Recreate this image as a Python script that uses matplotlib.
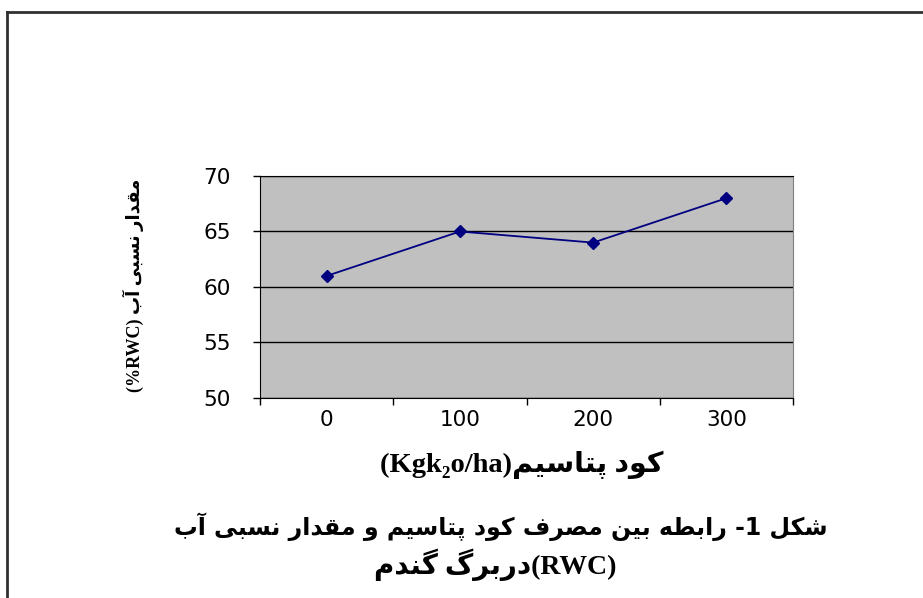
import matplotlib
matplotlib.use("Agg")
import matplotlib.pyplot as plt
from matplotlib.lines import Line2D

# data
doses = ["0", "100", "200", "300"]
rwc = [61, 65, 64, 68]
y_ticks = [50, 55, 60, 65, 70]

# persian labels (logical order)
ylabel_fa = "مقدار نسبی آب"
xlabel_fa = "کود پتاسیم"
caption1_fa = "شکل 1- رابطه بین مصرف کود پتاسیم و مقدار نسبی آب"
caption2_fa = "دربرگ گندم"

# presentation forms: isolated, final, initial, medial
FORMS = {
    "ا": (0xFE8D, 0xFE8E, None, None),
    "آ": (0xFE81, 0xFE82, None, None),
    "د": (0xFEA9, 0xFEAA, None, None),
    "ر": (0xFEAD, 0xFEAE, None, None),
    "و": (0xFEED, 0xFEEE, None, None),
    "ب": (0xFE8F, 0xFE90, 0xFE91, 0xFE92),
    "پ": (0xFB56, 0xFB57, 0xFB58, 0xFB59),
    "ت": (0xFE95, 0xFE96, 0xFE97, 0xFE98),
    "س": (0xFEB1, 0xFEB2, 0xFEB3, 0xFEB4),
    "ش": (0xFEB5, 0xFEB6, 0xFEB7, 0xFEB8),
    "ص": (0xFEB9, 0xFEBA, 0xFEBB, 0xFEBC),
    "ط": (0xFEC1, 0xFEC2, 0xFEC3, 0xFEC4),
    "ف": (0xFED1, 0xFED2, 0xFED3, 0xFED4),
    "ق": (0xFED5, 0xFED6, 0xFED7, 0xFED8),
    "ک": (0xFB8E, 0xFB8F, 0xFB90, 0xFB91),
    "گ": (0xFB92, 0xFB93, 0xFB94, 0xFB95),
    "ل": (0xFEDD, 0xFEDE, 0xFEDF, 0xFEE0),
    "م": (0xFEE1, 0xFEE2, 0xFEE3, 0xFEE4),
    "ن": (0xFEE5, 0xFEE6, 0xFEE7, 0xFEE8),
    "ه": (0xFEE9, 0xFEEA, 0xFEEB, 0xFEEC),
    "ی": (0xFBFC, 0xFBFD, 0xFBFE, 0xFBFF),
}


def rtl(text):
    # shape letters then reverse into visual order
    out = []
    for i, ch in enumerate(text):
        if ch not in FORMS:
            out.append(ch)
            continue
        prev = text[i - 1] if i > 0 else ""
        nxt = text[i + 1] if i + 1 < len(text) else ""
        join_prev = prev in FORMS and FORMS[prev][2] is not None
        join_next = FORMS[ch][2] is not None and nxt in FORMS
        iso, fin, ini, med = FORMS[ch]
        if join_prev and join_next:
            code = med
        elif join_prev:
            code = fin
        elif join_next:
            code = ini
        else:
            code = iso
        out.append(chr(code))
    return "".join(out[::-1])


W, H = 923, 598
fig = plt.figure(figsize=(W / 100, H / 100), dpi=100)
ax = fig.add_axes([260 / W, 1 - 398 / H, 533 / W, 222 / H])

x = list(range(len(doses)))
ax.plot(x, rwc, color="#000080", lw=1.3, marker="D", ms=6.5, mfc="#000080", mec="#000080")

ax.set_facecolor("#C0C0C0")
ax.set_xlim(-0.5, len(doses) - 0.5)
ax.set_ylim(50, 70)
ax.set_yticks(y_ticks)
ax.set_xticks(x)
ax.set_xticklabels(doses)
ax.set_xticks([i - 0.5 for i in range(len(doses) + 1)], minor=True)
ax.tick_params(axis="x", which="major", length=0, pad=9, labelsize=15.5)
ax.tick_params(axis="x", which="minor", length=5, width=1, direction="out")
ax.tick_params(axis="y", length=5, width=1, direction="out", pad=16, labelsize=15.5)
for lab in ax.get_xticklabels() + ax.get_yticklabels():
    lab.set_fontfamily("DejaVu Sans")
ax.yaxis.grid(True, color="black", lw=1)
ax.set_axisbelow(True)
ax.spines["right"].set_color("#808080")
ax.spines["top"].set_color("black")

mixed = ["Liberation Serif", "DejaVu Sans"]
fig.text(522 / W, 1 - 465 / H, "(Kgk\u2082o/ha)" + rtl(xlabel_fa),
         ha="center", va="center", fontsize=20.5, fontweight="bold", family=mixed)
fig.text(133 / W, 1 - 285 / H, "(%RWC) " + rtl(ylabel_fa), rotation=90,
         ha="center", va="center", fontsize=13, fontweight="bold", family=mixed)
fig.text(501 / W, 1 - 527 / H, rtl(caption1_fa),
         ha="center", va="center", fontsize=17, fontweight="bold", family=["DejaVu Sans"])
fig.text(495 / W, 1 - 565 / H, rtl(caption2_fa) + "(RWC)",
         ha="center", va="center", fontsize=20, fontweight="bold", family=mixed)

# page frame (only top and left visible)
fig.add_artist(Line2D([7 / W, 7 / W], [0, 1 - 12 / H], transform=fig.transFigure, color="#303030", lw=2))
fig.add_artist(Line2D([7 / W, 1], [1 - 12 / H, 1 - 12 / H], transform=fig.transFigure, color="#303030", lw=2))

fig.savefig("out.png", dpi=100)
